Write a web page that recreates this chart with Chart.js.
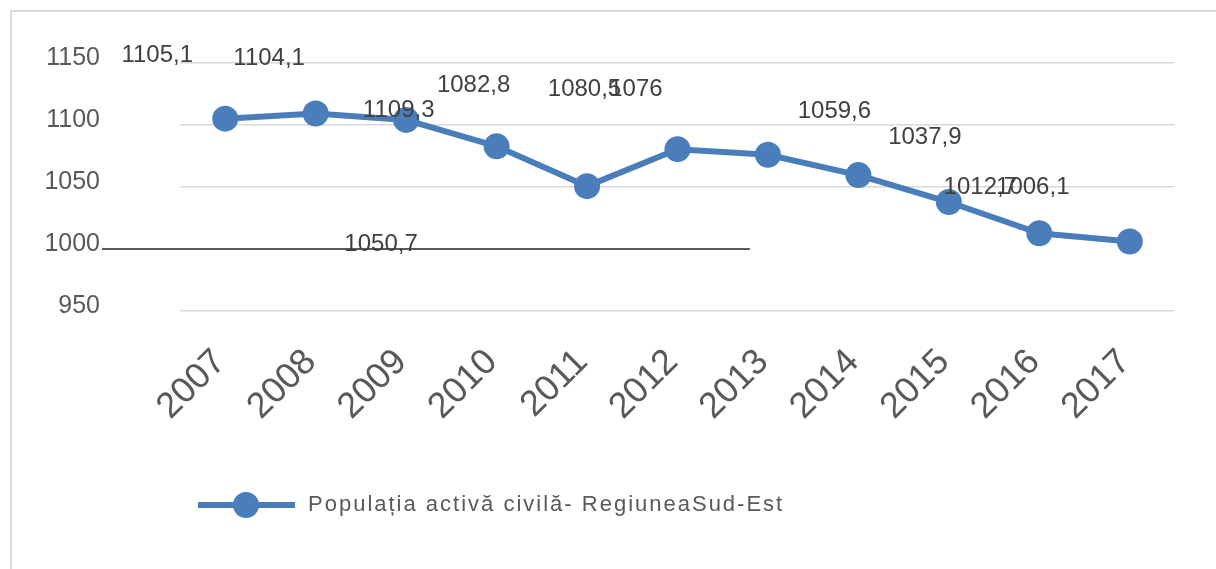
<!DOCTYPE html>
<html>
<head>
<meta charset="utf-8">
<script src="https://cdn.jsdelivr.net/npm/chart.js@4.4.0/dist/chart.umd.min.js"></script>
<style>
  body { margin: 0; background: #fff; }
  #wrap { position: relative; width: 1216px; height: 569px; overflow: hidden; }
  #frame { position: absolute; left: 10px; top: 10px; width: 1220px; height: 570px;
           border-top: 2px solid #d9d9d9; border-left: 2px solid #d9d9d9; }
  #chart { position: absolute; left: 0; top: 0; }
</style>
</head>
<body>
<div id="wrap">
  <div id="frame"></div>
  <canvas id="chart" width="1216" height="569"></canvas>
</div>
<script>
const years = ['2007', '2008', '2009', '2010', '2011', '2012', '2013', '2014', '2015', '2016', '2017'];
const population = [1105.1, 1109.3, 1104.1, 1082.8, 1050.7, 1080.5, 1076, 1059.6, 1037.9, 1012.7, 1006.1];
const yTicks = [950, 1000, 1050, 1100, 1150];
const seriesName = 'Populația activă civilă- RegiuneaSud-Est';

const blue = '#4a7ebb';
const textGray = '#595959';
const gridGray = '#d9d9d9';
const fontFamily = '"Liberation Sans", Arial, sans-serif';

// the data labels sit where they were dragged to in the original, shifted from their points
const labelShift = [
    [-68, -63], [83, -3], [-137, -62], [-23, -61], [-206, 58], [-93, -60],
    [-132, -65], [-24, -64], [-24, -65], [-59, -46], [-97, -54]
];

function formatValue(v) {
    return String(v).replace('.', ',');
}

const valueLabels = {
    id: 'valueLabels',
    afterDatasetsDraw(chart) {
        const ctx = chart.ctx;
        const meta = chart.getDatasetMeta(0);
        ctx.save();
        ctx.font = '24px ' + fontFamily;
        ctx.fillStyle = '#404040';
        ctx.textAlign = 'center';
        ctx.textBaseline = 'middle';
        meta.data.forEach((pt, i) => {
            const shift = labelShift[i];
            ctx.fillText(formatValue(population[i]), pt.x + shift[0], pt.y + shift[1]);
        });
        ctx.restore();
    }
};

// short dark line at 1000 that stops part way through the plot
const baseLine = {
    id: 'baseLine',
    beforeDatasetsDraw(chart) {
        const ctx = chart.ctx;
        const y = chart.scales.y.getPixelForValue(yTicks[1]);
        const x0 = chart.scales.y.right - 78;
        const x1 = chart.scales.x.getPixelForValue(5.8);
        ctx.save();
        ctx.strokeStyle = textGray;
        ctx.lineWidth = 2;
        ctx.beginPath();
        ctx.moveTo(x0, y);
        ctx.lineTo(x1, y);
        ctx.stroke();
        ctx.restore();
    }
};

const lineLegend = {
    id: 'lineLegend',
    afterDraw(chart) {
        const ctx = chart.ctx;
        const ds = chart.data.datasets[0];
        const x = 198, y = 505;
        ctx.save();
        ctx.strokeStyle = ds.borderColor;
        ctx.lineWidth = 6;
        ctx.beginPath();
        ctx.moveTo(x, y);
        ctx.lineTo(x + 97, y);
        ctx.stroke();
        ctx.fillStyle = ds.borderColor;
        ctx.beginPath();
        ctx.arc(x + 48, y, 13, 0, Math.PI * 2);
        ctx.fill();
        ctx.font = '22px ' + fontFamily;
        ctx.letterSpacing = '2px';
        ctx.fillStyle = textGray;
        ctx.textBaseline = 'middle';
        ctx.fillText(ds.label, x + 110, y);
        ctx.restore();
    }
};

new Chart(document.getElementById('chart'), {
    type: 'line',
    data: {
        labels: years,
        datasets: [{
            label: seriesName,
            data: population,
            borderColor: blue,
            backgroundColor: blue,
            borderWidth: 6,
            pointRadius: 13,
            pointBorderWidth: 0,
            pointBackgroundColor: blue,
            tension: 0,
        }],
    },
    options: {
        responsive: false,
        animation: false,
        layout: { padding: { left: 10, top: 63, right: 41, bottom: 100 } },
        plugins: {
            legend: { display: false },
            tooltip: { enabled: false },
        },
        scales: {
            x: {
                offset: true,
                grid: { display: false },
                border: { display: false },
                ticks: {
                    autoSkip: false,
                    minRotation: 45,
                    maxRotation: 45,
                    padding: 22,
                    labelOffset: -5,
                    color: textGray,
                    font: { family: fontFamily, size: 36 },
                },
                afterFit(scale) { scale.height = 158; },
            },
            y: {
                min: yTicks[0],
                max: yTicks[yTicks.length - 1],
                border: { display: false },
                grid: {
                    drawTicks: false,
                    lineWidth: 1.5,
                    color: c => (c.tick && c.tick.value === yTicks[1]) ? 'transparent' : gridGray,
                },
                ticks: {
                    stepSize: 50,
                    padding: 80,
                    labelOffset: -5,
                    color: textGray,
                    font: { family: fontFamily, size: 25 },
                    callback: v => v,
                },
                afterFit(scale) {
                    // the wide label gap should not push the plot down
                    scale.width = 170;
                    scale.paddingTop = 0;
                    scale.paddingBottom = 0;
                },
            },
        },
    },
    plugins: [baseLine, valueLabels, lineLegend],
});
</script>
</body>
</html>
